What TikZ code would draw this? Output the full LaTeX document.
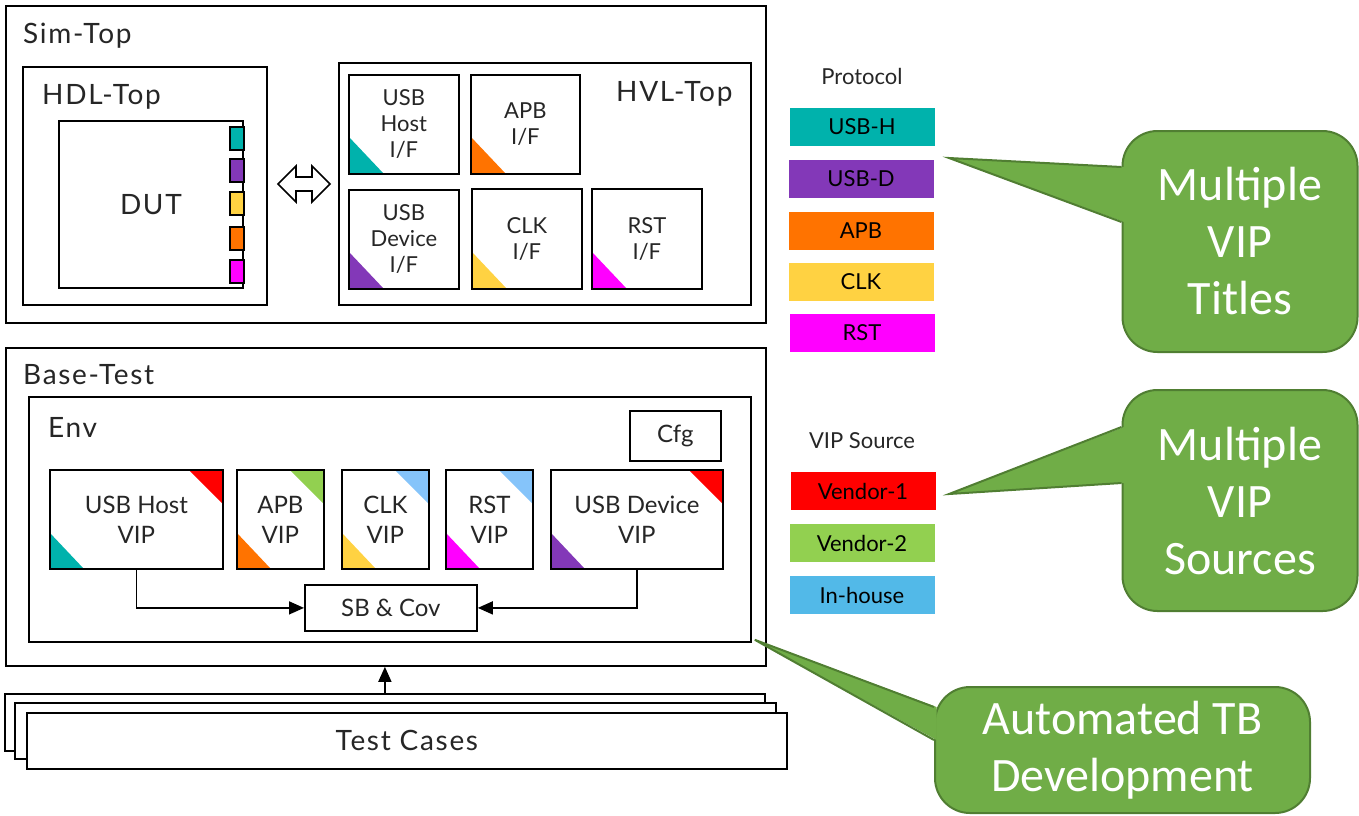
\documentclass[tikz,border=0pt]{standalone}
\usepackage{fontspec}
\setmainfont{Lato}
\newfontfamily\calloutfont{Carlito}
\newfontfamily\titlefont{Lato}[LetterSpace=6]
\usetikzlibrary{arrows.meta}

% protocol colours
\definecolor{cUSBH}{HTML}{00B2AC}
\definecolor{cUSBD}{HTML}{8338B8}
\definecolor{cAPB}{HTML}{FF7300}
\definecolor{cCLK}{HTML}{FFD242}
\definecolor{cRST}{HTML}{FF00FF}
% VIP source colours
\definecolor{cVendA}{HTML}{FF0000}
\definecolor{cVendB}{HTML}{92D050}
\definecolor{cInHouse}{HTML}{52B9E8}
\definecolor{cInHouseLt}{HTML}{85C4FA}
% callouts
\definecolor{callfill}{HTML}{70AD47}
\definecolor{callline}{HTML}{507E32}

% rectangle given by its two corners: [style]{name}{x1}{y1}{x2}{y2}{text}
\newcommand{\rbox}[7][]{%
  \node[box,#1,anchor=north west,
        minimum width={(#5-#3)*1pt},minimum height={(#6-#4)*1pt}]
        (#2) at (#3,#4) {#7};}

\tikzset{
  box/.style={draw=black, line width=1.8pt, fill=white, inner sep=0pt,
              align=center, text=black!85},
  bigtxt/.style={font=\titlefont\fontsize{28}{32}\selectfont},
  title/.style={anchor=base west, inner sep=0pt, text=black!85, bigtxt},
  iftxt/.style={font=\fontsize{22}{26}\selectfont},
  viptxt/.style={font=\fontsize{24}{30}\selectfont},
  ifbox/.style={box, iftxt, path picture={
      \fill[#1] (path picture bounding box.south west)
        -- ++(35pt,0pt) -- ++(-35pt,37pt) -- cycle;}},
  vipbox/.style 2 args={box, viptxt, path picture={
      \fill[#1] (path picture bounding box.south west)
        -- ++(34pt,0pt) -- ++(-34pt,36pt) -- cycle;
      \fill[#2] (path picture bounding box.north east)
        -- ++(-34pt,0pt) -- ++(34pt,-34pt) -- cycle;}},
  port/.style={draw=black, line width=1.6pt, anchor=north west,
               minimum width=14pt, minimum height=23pt, inner sep=0pt},
  legbar/.style={minimum width=145pt, minimum height=38pt, inner sep=0pt,
                 font=\fontsize{22}{26}\selectfont, text=black},
  leghead/.style={inner sep=0pt, anchor=base, text=black!85,
                  font=\fontsize{22}{26}\selectfont},
  callout/.style={draw=callline, fill=callfill, line width=2pt,
                  rounded corners=35pt, text=white, align=center,
                  font=\calloutfont\fontsize{48}{57}\selectfont},
  arr/.style={line width=1.5pt, -{Triangle[length=15pt,width=13pt]}},
}

\begin{document}
\begin{tikzpicture}[x=1pt,y=-1pt]
\useasboundingbox (0,0) rectangle (1359,815);

% ---------------- Sim-Top ----------------
\rbox{simtop}{5}{5}{765}{322}{}
\node[title] (simtoplbl) at (23,43) {Sim-Top};

\rbox{hdltop}{22}{66}{266}{304}{}
\node[title] (hdltoplbl) at (42,104) {HDL-Top};
\rbox[bigtxt]{dut}{58}{120}{242}{287}{DUT}

% DUT ports
\node[port, fill=cUSBH] (pA) at (229,126) {};
\node[port, fill=cUSBD] (pB) at (229,158) {};
\node[port, fill=cCLK]  (pC) at (229,191) {};
\node[port, fill=cAPB]  (pD) at (229,226) {};
\node[port, fill=cRST]  (pE) at (229,259) {};

% bidirectional block arrow
\draw[line width=1.6pt, fill=white, line join=miter]
  (278,184) -- (296,166) -- (296,177) -- (312,177) -- (312,166)
  -- (330,184) -- (312,202) -- (312,191) -- (296,191) -- (296,202) -- cycle;

\rbox{hvltop}{338}{62}{750}{304}{}
\node[title] (hvltoplbl) at (616,101) {HVL-Top};

\rbox[ifbox=cUSBH]{ifuh}{348}{74}{458}{173}{USB\\Host\\I/F}
\rbox[ifbox=cAPB]{ifapb}{470}{74}{579}{173}{APB\\I/F}
\rbox[ifbox=cUSBD]{ifud}{348}{189}{458}{288}{USB\\Device\\I/F}
\rbox[ifbox=cCLK]{ifclk}{471}{188}{581}{288}{CLK\\I/F}
\rbox[ifbox=cRST]{ifrst}{591}{188}{701}{288}{RST\\I/F}

% ---------------- Base-Test ----------------
\rbox{basetest}{5}{347}{765}{665}{}
\node[title] (basetestlbl) at (23,384) {Base-Test};

\rbox{env}{28}{396}{750}{641}{}
\node[title] (envlbl) at (48,437) {Env};
\rbox[viptxt]{cfg}{629}{410}{720}{460}{Cfg}

\rbox[vipbox={cUSBH}{cVendA}]{vuh}{49}{469}{222}{568}{USB Host\\VIP}
\rbox[vipbox={cAPB}{cVendB}]{vapb}{236}{469}{323}{568}{APB\\VIP}
\rbox[vipbox={cCLK}{cInHouseLt}]{vclk}{341}{469}{428}{568}{CLK\\VIP}
\rbox[vipbox={cRST}{cInHouseLt}]{vrst}{445}{469}{532}{568}{RST\\VIP}
\rbox[vipbox={cUSBD}{cVendA}]{vud}{550}{469}{722}{568}{USB Device\\VIP}

\rbox[viptxt]{sb}{304}{584}{476}{630}{SB \& Cov}
\draw[arr] (vuh.south) |- (sb.west);
\draw[arr] (vud.south) |- (sb.east);

% ---------------- Test cases ----------------
\rbox{tcA}{4}{693}{764}{750}{}
\rbox{tcB}{14}{702}{775}{758}{}
\rbox[bigtxt]{tcC}{26}{712}{786}{768}{Test Cases}
\draw[arr] (tcA.north) -- (basetest.south -| tcA.north);

% ---------------- Legends ----------------
\node[leghead] (protohead) at (862,84) {Protocol};
\node[legbar, fill=cUSBH] (lgA) at (862,127) {USB-H};
\node[legbar, fill=cUSBD] (lgB) at (861,179) {USB-D};
\node[legbar, fill=cAPB]  (lgC) at (861,231) {APB};
\node[legbar, fill=cCLK]  (lgD) at (861,282) {CLK};
\node[legbar, fill=cRST]  (lgE) at (862,333) {RST};

\node[leghead] (srchead) at (862,448) {VIP Source};
\node[legbar, fill=cVendA]   (lsA) at (863,491) {Vendor-1};
\node[legbar, fill=cVendB]   (lsB) at (862,543) {Vendor-2};
\node[legbar, fill=cInHouse] (lsC) at (862,595) {In-house};

% ---------------- Callouts ----------------
\node[callout, minimum width=235pt, minimum height=221pt] (coA) at (1240,241.5)
  {Multiple\\VIP\\Titles};
\coordinate (tipA) at (949,158);
\fill[callfill] ([xshift=2.5pt]coA.west |- 0,167) -- (tipA) -- ([xshift=2.5pt]coA.west |- 0,222) -- cycle;
\draw[callline, line width=2pt] (coA.west |- 0,167) -- (tipA) -- (coA.west |- 0,222);

\node[callout, minimum width=235pt, minimum height=221pt] (coB) at (1240,500.5)
  {Multiple\\VIP\\Sources};
\coordinate (tipB) at (949,494);
\fill[callfill] ([xshift=2.5pt]coB.west |- 0,427) -- (tipB) -- ([xshift=2.5pt]coB.west |- 0,483) -- cycle;
\draw[callline, line width=2pt] (coB.west |- 0,427) -- (tipB) -- (coB.west |- 0,483);

\node[callout, minimum width=375pt, minimum height=126pt] (coC) at (1122.5,750)
  {Automated TB\\Development};
\coordinate (tipC) at ([shift={(3pt,3pt)}]env.south east);
\fill[callfill] ([xshift=2.5pt]coC.west |- 0,707) -- (tipC) -- ([xshift=2.5pt]coC.west |- 0,740) -- cycle;
\draw[callline, line width=2pt] (coC.west |- 0,707) -- (tipC) -- (coC.west |- 0,740);
\end{tikzpicture}
\end{document}
